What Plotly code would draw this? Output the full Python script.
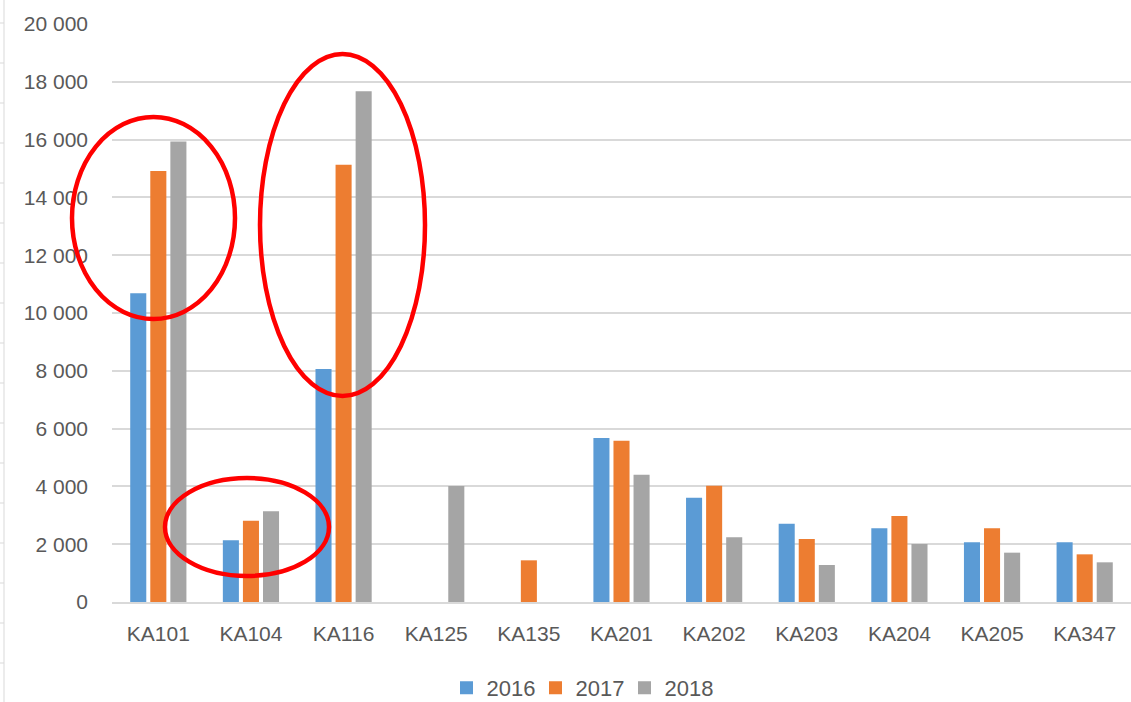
import plotly.graph_objects as go

categories = ["KA101", "KA104", "KA116", "KA125", "KA135", "KA201", "KA202", "KA203", "KA204", "KA205", "KA347"]
v2016 = [10680, 2135, 8060, None, None, 5675, 3610, 2710, 2549, 2064, 2064]
v2017 = [14910, 2814, 15130, None, 1442, 5582, 4025, 2180, 2976, 2549, 1649]
v2018 = [15930, 3137, 17670, 4010, None, 4406, 2237, 1280, 2007, 1707, 1373]
series_names = ["2016", "2017", "2018"]
colors = ["#5B9BD5", "#ED7D31", "#A5A5A5"]
tick_vals = [0, 2000, 4000, 6000, 8000, 10000, 12000, 14000, 16000, 18000, 20000]
tick_text = ["0", "2 000", "4 000", "6 000", "8 000", "10 000", "12 000", "14 000", "16 000", "18 000", "20 000"]

W, H = 1131, 702
ML, MR, MT, MB = 112, 0, 24, 100
PW, PH = W - ML - MR, H - MT - MB

fig = go.Figure()
for name, vals, col in zip(series_names, [v2016, v2017, v2018], colors):
    fig.add_trace(go.Bar(x=categories, y=vals, name=name, showlegend=False,
                         marker=dict(color=col, line=dict(width=0))))
# legend entries with larger square swatches
for name, col in zip(series_names, colors):
    fig.add_trace(go.Scatter(x=[None], y=[None], mode="markers", name=name,
                             marker=dict(symbol="square", size=13, color=col)))

def px_x(p):
    return (p - ML) / PW

def px_y(p):
    return (H - MB - p) / PH

shapes = []
# red ellipses (pixel positions converted to paper coords)
for (x0, y0, x1, y1) in [(72, 117, 235, 319), (260, 54, 425, 396), (165, 478, 329, 576)]:
    shapes.append(dict(type="circle", xref="paper", yref="paper",
                       x0=px_x(x0), x1=px_x(x1), y0=px_y(y1), y1=px_y(y0),
                       line=dict(color="#FF0000", width=4.5)))
# left edge decoration (spreadsheet border)
shapes.append(dict(type="line", xref="paper", yref="paper", x0=px_x(4), x1=px_x(4), y0=px_y(0), y1=px_y(702),
                   line=dict(color="#D9D9D9", width=1)))
for k in range(18):
    py = 23 + 40 * k
    shapes.append(dict(type="line", xref="paper", yref="paper", x0=px_x(0), x1=px_x(4), y0=px_y(py), y1=px_y(py),
                       line=dict(color="#D9D9D9", width=1)))

fig.update_layout(
    width=W, height=H,
    margin=dict(l=ML, r=MR, t=MT, b=MB, autoexpand=False),
    paper_bgcolor="white", plot_bgcolor="white",
    barmode="group", bargap=0.35, bargroupgap=0.2,
    font=dict(family="Liberation Sans, Arial, sans-serif", size=21, color="#595959"),
    xaxis=dict(showgrid=False, showline=True, linecolor="#D9D9D9", linewidth=1.5, ticks="",
               tickfont=dict(size=21, color="#595959"), ticklabelstandoff=12),
    yaxis=dict(range=[0, 20000], tickvals=tick_vals, ticktext=tick_text, showgrid=True,
               gridcolor="#D9D9D9", gridwidth=1.5, zeroline=False, showline=False,
               tickfont=dict(size=21, color="#595959"), ticklabelstandoff=23),
    legend=dict(orientation="h", xref="container", yref="container",
                x=580 / W, xanchor="center", y=(H - 688) / H, yanchor="middle",
                font=dict(size=22, color="#595959"), itemsizing="trace",
                entrywidth=44, entrywidthmode="pixels", traceorder="normal"),
    shapes=shapes,
)

fig.write_html("out.html", config={"displayModeBar": False},
               post_script="document.body.style.margin='0px';")
